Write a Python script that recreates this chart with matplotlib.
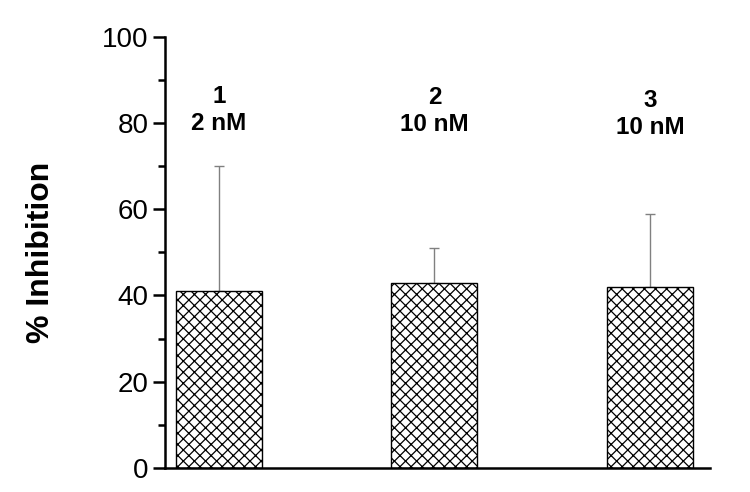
import matplotlib.pyplot as plt
from matplotlib.ticker import MultipleLocator

plt.rcParams['font.family'] = ['Liberation Sans', 'DejaVu Sans']
plt.rcParams['hatch.linewidth'] = 0.9

compounds = ["1", "2", "3"]
doses = ["2 nM", "10 nM", "10 nM"]
inhibition = [41, 43, 42]
errors = [29, 8, 17]
label_y = [77.3, 77.0, 76.3]

fig = plt.figure(figsize=(7.5, 4.92), dpi=100)
ax = fig.add_axes([0.22, 0.049, 0.727, 0.876])

x = range(len(compounds))
ax.bar(x, inhibition, width=0.4, color="white", edgecolor="black",
       hatch="xxx", linewidth=1.0, zorder=2)
ax.errorbar(x, inhibition, yerr=[[0] * 3, errors], fmt="none",
            ecolor="#808080", elinewidth=1.0, capsize=3.5, capthick=1.0, zorder=1)

for i in x:
    ax.text(i, label_y[i], compounds[i] + "\n" + doses[i], ha="center",
            va="bottom", fontsize=17.5, fontweight="bold", linespacing=1.2)

ax.set_xlim(-0.25, 2.28)
ax.set_ylim(0, 100)
ax.yaxis.set_major_locator(MultipleLocator(20))
ax.yaxis.set_minor_locator(MultipleLocator(10))
ax.set_xticks([])
ax.tick_params(axis="y", which="major", labelsize=20, length=9, width=1.8, pad=3)
ax.tick_params(axis="y", which="minor", length=5, width=1.8)
for s in ["top", "right"]:
    ax.spines[s].set_visible(False)
for s in ["left", "bottom"]:
    ax.spines[s].set_linewidth(1.8)

ax.set_ylabel("% Inhibition", fontsize=23, fontweight="bold")
ax.yaxis.set_label_coords(-0.2, 0.5)

fig.savefig("out.png", dpi=100)
